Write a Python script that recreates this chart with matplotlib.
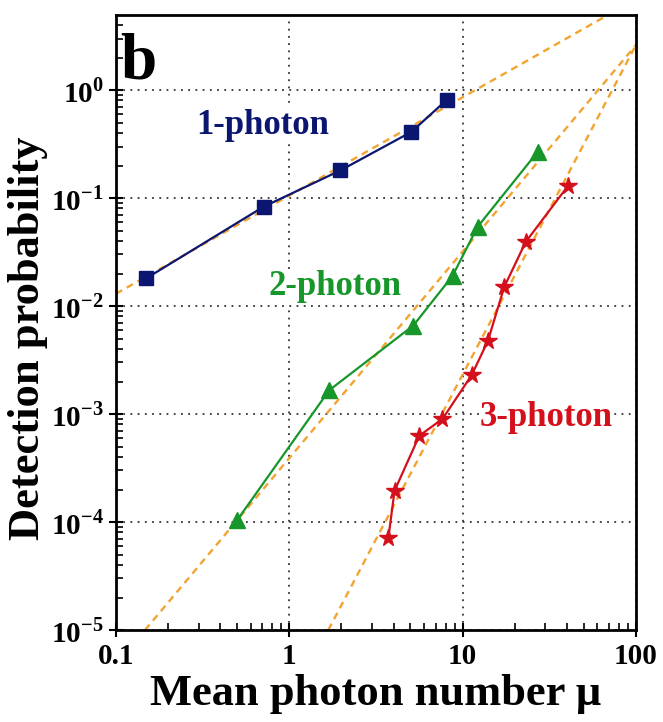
import matplotlib

matplotlib.use("Agg")
import matplotlib.pyplot as plt
import matplotlib.ticker as mt
import numpy as np

plt.rcParams["font.family"] = ["Liberation Serif", "DejaVu Serif"]
plt.rcParams["font.weight"] = "bold"
plt.rcParams["axes.labelweight"] = "bold"
plt.rcParams["mathtext.fontset"] = "custom"
plt.rcParams["mathtext.rm"] = "Liberation Serif:bold"
plt.rcParams["mathtext.bf"] = "Liberation Serif:bold"

# measured detection probabilities vs. mean photon number
mu_1ph = [0.149, 0.71, 1.97, 5.07, 8.1]
p_1ph = [0.018, 0.083, 0.18, 0.41, 0.81]

mu_2ph = [0.50, 1.70, 5.2, 8.75, 12.2, 27.1]
p_2ph = [1.04e-4, 1.66e-3, 6.6e-3, 0.019, 0.054, 0.267]

mu_3ph = [3.73, 4.05, 5.63, 7.66, 11.3, 14.0, 17.4, 23.1, 40.5]
p_3ph = [7.1e-5, 1.95e-4, 6.3e-4, 9.0e-4, 2.3e-3, 4.75e-3, 0.015, 0.039, 0.129]

# power-law guides (end points)
fit_mu = [[0.1, 68.9], [0.147, 100.0], [1.68, 100.0]]
fit_p = [[0.013, 4.95], [1e-5, 2.6], [1e-5, 2.6]]

xticks = [0.1, 1, 10, 100]
xticklabels = ["0.1", "1", "10", "100"]
yexps = [-5, -4, -3, -2, -1, 0]

navy = "#0b1670"
green = "#17962a"
red = "#d3101c"
orange = "#f2a431"

fig = plt.figure(figsize=(6.63, 7.22), dpi=100)
ax = fig.add_axes([0.175, 0.1274, 0.784, 0.8518])

for fx, fy in zip(fit_mu, fit_p):
    ax.plot(fx, fy, ls=(0, (3, 2.2)), color=orange, lw=1.7, zorder=2)

ax.plot(mu_1ph, p_1ph, "-s", color=navy, lw=1.6, ms=9.5, zorder=3)
ax.plot(mu_2ph, p_2ph, "-^", color=green, lw=1.6, ms=11.5, zorder=3)
ax.plot(mu_3ph, p_3ph, "-*", color=red, lw=1.6, ms=13, zorder=3)

ax.set_xscale("log")
ax.set_yscale("log")
ax.set_xlim(0.1, 100)
ax.set_ylim(1e-5, 4.95)

ax.set_xticks(xticks)
ax.set_xticklabels(xticklabels)
ax.set_yticks([10.0**e for e in yexps])
ax.yaxis.set_major_formatter(mt.FuncFormatter(lambda v, _: r"$10^{%d}$" % round(np.log10(v))))
ax.xaxis.set_minor_locator(mt.LogLocator(base=10, subs=np.arange(2, 10)))
ax.yaxis.set_minor_locator(mt.LogLocator(base=10, subs=np.arange(2, 10)))
ax.xaxis.set_minor_formatter(mt.NullFormatter())
ax.yaxis.set_minor_formatter(mt.NullFormatter())

ax.tick_params(which="major", direction="inout", length=10, width=1.5, labelsize=21, pad=4)
ax.tick_params(which="minor", direction="in", length=5, width=1.2)
ax.tick_params(top=False, right=False)
for s in ax.spines.values():
    s.set_linewidth(2)

ax.grid(True, which="major", ls=(0, (1, 3)), color="#333333", lw=1.3, zorder=0)

ax.set_xlabel("Mean photon number \u03bc", fontsize=32, labelpad=3)
ax.set_ylabel("Detection probability", fontsize=32)
ax.yaxis.set_label_coords(-0.13, 0.475)

box = dict(facecolor="white", edgecolor="none", pad=1)
ax.text(0.283, 0.821, "1-photon", transform=ax.transAxes, fontsize=25, color=navy,
        ha="center", va="center", bbox=box, zorder=4)
ax.text(0.422, 0.558, "2-photon", transform=ax.transAxes, fontsize=25, color=green,
        ha="center", va="center", bbox=box, zorder=4)
ax.text(0.828, 0.345, "3-photon", transform=ax.transAxes, fontsize=25, color=red,
        ha="center", va="center", bbox=box, zorder=4)
ax.text(0.008, 0.972, "b", transform=ax.transAxes, fontsize=47, color="black",
        ha="left", va="top", zorder=4)

fig.savefig("out.png", dpi=100)
